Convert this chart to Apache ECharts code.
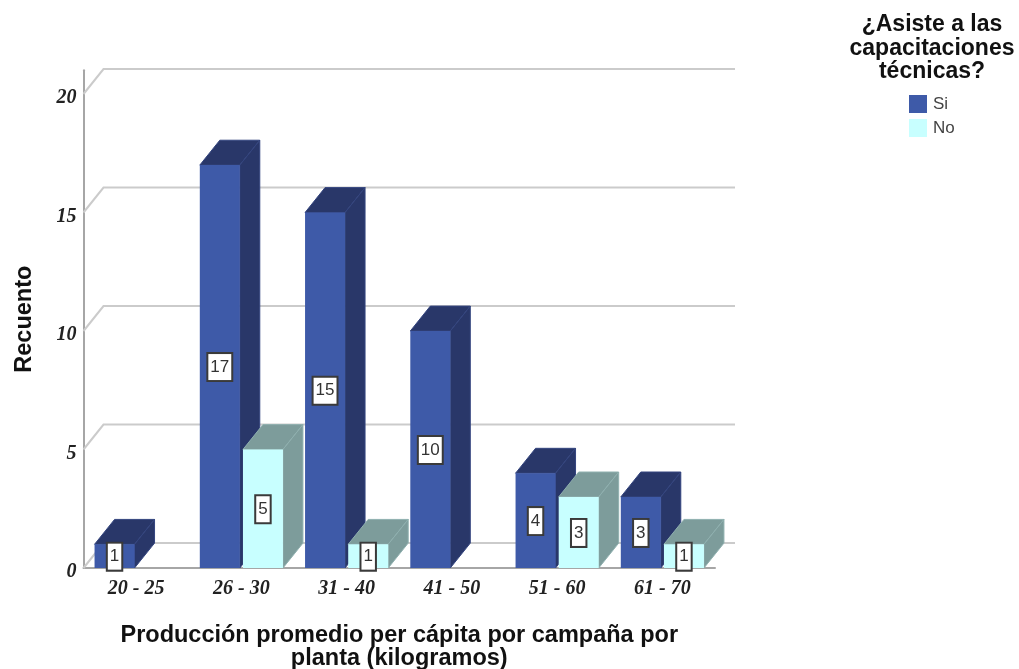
<!DOCTYPE html>
<html>
<head>
<meta charset="utf-8">
<style>html,body{margin:0;padding:0;background:#fff}#chart{width:1019px;height:669px}</style>
<script src="https://cdn.jsdelivr.net/npm/echarts@6/dist/echarts.min.js"></script>
</head>
<body>
<div id="chart"></div>
<script>
// Recuento por rango de producción, separado por asistencia a capacitaciones
const categories = ['20 - 25', '26 - 30', '31 - 40', '41 - 50', '51 - 60', '61 - 70'];
const siValues = [1, 17, 15, 10, 4, 3];
const noValues = [null, 5, 1, null, 3, 1];
const gridTicks = [0, 5, 10, 15, 20];

// Proportions of the pseudo-3D columns
const BAR_SHARE = 0.38;      // column width as a share of a category band
const GAP_SHARE = 0.03;      // gap between the two columns of a band
const DEPTH_X_SHARE = 0.19;  // horizontal depth as a share of a band
const DEPTH_Y_UNITS = 1.05;  // vertical depth in value-axis units

const serifFont = '"Liberation Serif", serif';
const sansFont = '"Liberation Sans", Arial, sans-serif';

function depth(api) {
  return [api.size([1, 0])[0] * DEPTH_X_SHARE, api.size([0, 1])[1] * DEPTH_Y_UNITS];
}

// One column: front face, top face, side face and a boxed value label
function columnRenderer(side, faces) {
  return function (params, api) {
    const value = api.value(1);
    const band = api.size([1, 0])[0];
    const width = band * BAR_SHARE;
    const [dx, dy] = depth(api);
    const centre = api.coord([api.value(0), 0])[0] + side * (width + band * GAP_SHARE) / 2;
    const bottom = api.coord([api.value(0), 0])[1];
    const top = api.coord([api.value(0), value])[1];
    const l = centre - width / 2, r = centre + width / 2;
    const edge = { stroke: faces.edge, lineWidth: 1 };
    return {
      type: 'group',
      children: [
        { type: 'polygon', shape: { points: [[l, top], [l + dx, top - dy], [r + dx, top - dy], [r, top]] },
          style: Object.assign({ fill: faces.shade }, edge) },
        { type: 'polygon', shape: { points: [[r, top], [r + dx, top - dy], [r + dx, bottom - dy], [r, bottom]] },
          style: Object.assign({ fill: faces.shade }, edge) },
        { type: 'rect', shape: { x: l, y: top, width: width, height: bottom - top },
          style: { fill: faces.front } },
        { type: 'text', z2: 50,
          style: {
            text: String(value), x: centre, y: (top + bottom) / 2 + 0.5,
            align: 'center', verticalAlign: 'middle',
            font: '17px ' + sansFont, fill: '#333',
            backgroundColor: '#fff', borderColor: '#3a3a3a', borderWidth: 2,
            padding: [5, 2, 4, 2]
          } }
      ]
    };
  };
}

// Floor-to-wall gridlines running behind the columns
function gridRenderer(params, api) {
  const v = api.value(0);
  const sys = params.coordSys;
  const y = api.coord([0, v])[1];
  const [dx, dy] = depth(api);
  return {
    type: 'polyline',
    shape: { points: [[sys.x, y], [sys.x + dx, y - dy], [sys.x + sys.width + dx, y - dy]] },
    style: { fill: null, stroke: '#cbcbcb', lineWidth: 2 }
  };
}

const siData = siValues.map((v, i) => [i, v]).filter(d => d[1] !== null);
const noData = noValues.map((v, i) => [i, v]).filter(d => d[1] !== null);

const chart = echarts.init(document.getElementById('chart'), null, { renderer: 'canvas' });
chart.setOption({
  animation: false,
  backgroundColor: '#fff',
  title: {
    text: '¿Asiste a las\ncapacitaciones\ntécnicas?',
    left: 927, top: 8, textAlign: 'center',
    textStyle: { fontFamily: sansFont, fontWeight: 'bold', fontSize: 23, lineHeight: 23.5, color: '#111' }
  },
  legend: {
    data: ['Si', 'No'], orient: 'vertical', left: 904, top: 90,
    itemWidth: 18, itemHeight: 18, itemGap: 6, icon: 'rect', selectedMode: false,
    textStyle: { fontFamily: sansFont, fontSize: 17, color: '#444', padding: [4, 0, 0, 1] }
  },
  grid: { left: 83.5, right: 304, top: 70.3, bottom: 101, outerBoundsMode: 'none' },
  xAxis: {
    type: 'category', data: categories,
    name: 'Producción promedio per cápita por campaña por\nplanta (kilogramos)',
    nameLocation: 'middle', nameGap: 56,
    nameTextStyle: { fontFamily: sansFont, fontWeight: 'bold', fontSize: 23.5, lineHeight: 23, color: '#111' },
    axisLine: { lineStyle: { color: '#a6a6a6', width: 2 } },
    axisTick: { show: false },
    axisLabel: { interval: 0, margin: 11, fontFamily: serifFont, fontWeight: 'bold', fontStyle: 'italic', fontSize: 20, color: '#222' }
  },
  yAxis: {
    type: 'value', min: 0, max: 21, interval: 5,
    name: 'Recuento', nameLocation: 'middle', nameGap: 47, nameRotate: 90,
    nameTextStyle: { fontFamily: sansFont, fontWeight: 'bold', fontSize: 23.5, color: '#111' },
    axisLine: { show: true, lineStyle: { color: '#a6a6a6', width: 2 } },
    axisTick: { show: false },
    splitLine: { show: false },
    axisLabel: { showMaxLabel: false, margin: 7, verticalAlign: 'top', lineHeight: 8, fontFamily: serifFont, fontWeight: 'bold', fontStyle: 'italic', fontSize: 20, color: '#222' }
  },
  series: [
    { type: 'custom', name: 'Reticula', coordinateSystem: 'cartesian2d', silent: true, z: 1,
      data: gridTicks.map(v => [v]), encode: { y: 0 }, renderItem: gridRenderer, clip: false },
    { type: 'custom', name: 'Si', coordinateSystem: 'cartesian2d', z: 3,
      itemStyle: { color: '#3e5aa8' }, data: siData, encode: { x: 0, y: 1 }, clip: false,
      renderItem: columnRenderer(-1, { front: '#3e5aa8', shade: '#293769', edge: '#34457f' }) },
    { type: 'custom', name: 'No', coordinateSystem: 'cartesian2d', z: 4,
      itemStyle: { color: '#c8ffff' }, data: noData, encode: { x: 0, y: 1 }, clip: false,
      renderItem: columnRenderer(1, { front: '#c8ffff', shade: '#7d9c9b', edge: '#8fb0af' }) }
  ]
});
</script>
</body>
</html>
